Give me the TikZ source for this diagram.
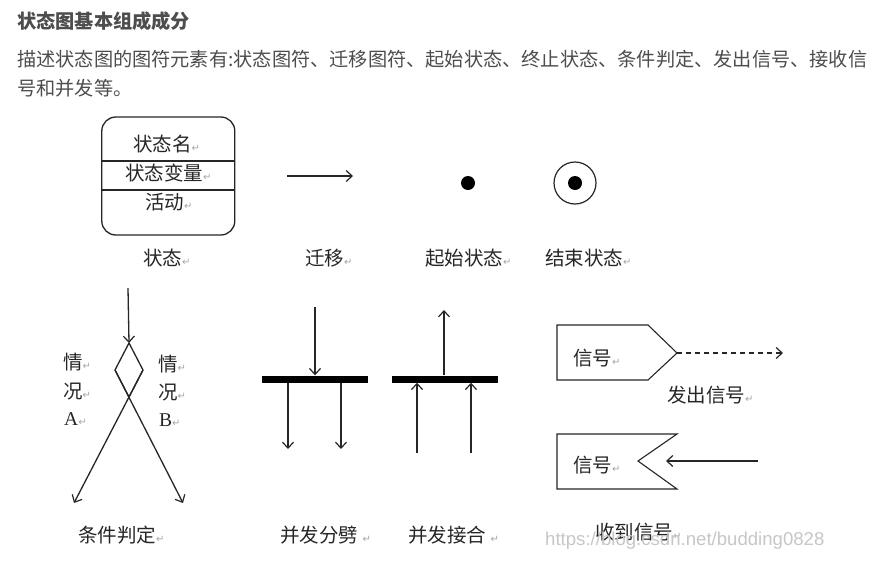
\documentclass[tikz,border=0pt]{standalone}
\usepackage{fontspec}
\setmainfont{Noto Sans CJK SC}
\newfontfamily\dejavu{DejaVu Sans}
\newfontfamily\wmfont{Liberation Sans}
\newfontfamily\latinserif{Liberation Serif}
\usetikzlibrary{arrows.meta}
\definecolor{txt}{HTML}{4D4D4D}
\definecolor{ink}{HTML}{262626}
\newcommand\retm{{\dejavu\fontsize{10}{10}\selectfont\color{black!35}↵}}
\begin{document}
\begin{tikzpicture}[x=1pt,y=-1pt,
  ln/.style={draw=ink,line width=1.3pt},
  arr/.style={ln,-{Straight Barb[length=6pt,width=11pt,line width=1.2pt]}},
  lbl/.style={font=\fontsize{19.5}{20}\selectfont,text=ink,inner sep=0pt,anchor=west},
  para/.style={font=\fontsize{19.2}{20}\selectfont,text=txt,inner sep=0pt,anchor=west},
  bar/.style={fill=black,minimum width=106pt,minimum height=7pt,inner sep=0pt},
  dot/.style={circle,fill=black,minimum size=14pt,inner sep=0pt}]
\useasboundingbox (0,0) rectangle (876,560);
\fill[white] (0,0) rectangle (876,560);

% header text
\node[para,font=\bfseries\fontsize{19.2}{20}\selectfont] (title) at (17,21) {状态图基本组成成分};
\node[para] (p1) at (17,59) {描述状态图的图符元素有:状态图符、迁移图符、起始状态、终止状态、条件判定、发出信号、接收信};
\node[para] (p2) at (17,88) {号和并发等。};

% state symbol
\node[ln,rounded corners=14pt,minimum width=133pt,minimum height=118pt,inner sep=0pt] (state) at (168.3,176) {};
\draw[ln] (102,161) -- (235,161);
\draw[ln] (102,190) -- (235,190);
\node[lbl] (sn) at (133,144) {状态名\retm};
\node[lbl] (sv) at (125,173) {状态变量\retm};
\node[lbl] (sa) at (145,202) {活动\retm};
\node[lbl] (l1) at (143,258) {状态\retm};

% transition
\coordinate (t1) at (287,176);
\coordinate (t2) at (353,176);
\draw[arr] (t1) -- (t2);
\node[lbl] (l2) at (305,258) {迁移\retm};

% initial / final
\node[dot] (init) at (468,183) {};
\node[lbl] (l3) at (425,258) {起始状态\retm};
\node[circle,ln,line width=1.2pt,minimum size=42pt,inner sep=0pt] (final) at (575,183) {};
\node[dot] (finaldot) at (final.center) {};
\node[lbl] (l4) at (545,258) {结束状态\retm};

% decision
\coordinate (din) at (128,288);
\coordinate (dt) at (129,343);
\coordinate (dr) at (143,370);
\coordinate (db) at (129,397);
\coordinate (dl) at (115,370);
\coordinate (da) at (74,503);
\coordinate (dbb) at (183,503);
\draw[arr] (din) -- (dt);
\draw[ln] (dt) -- (dr) -- (db) -- (dl) -- cycle;
\draw[arr] (dl) -- (dbb);
\draw[arr] (dr) -- (da);
\node[lbl] (qa1) at (63,362) {情\retm};
\node[lbl] (qa2) at (63,392) {况\retm};
\node[lbl] (qa3) at (64,419) {{\latinserif A}\retm};
\node[lbl] (qb1) at (158,364) {情\retm};
\node[lbl] (qb2) at (158,393) {况\retm};
\node[lbl] (qb3) at (159,420) {{\latinserif B}\retm};
\node[lbl] (l5) at (78,535) {条件判定\retm};

% fork
\node[bar] (fork) at (315,379) {};
\coordinate (fin) at (315,307);
\coordinate (fo1) at (288,449);
\coordinate (fo2) at (341,449);
\draw[arr] (fin) -- (fork.north -| fin);
\draw[arr] (fork.south -| fo1) -- (fo1);
\draw[arr] (fork.south -| fo2) -- (fo2);
\node[lbl] (l6) at (280,535) {并发分劈\ \retm};

% join
\node[bar] (join) at (444.5,379) {};
\coordinate (jout) at (444,310);
\coordinate (ji1) at (417,453);
\coordinate (ji2) at (471,453);
\draw[arr] (join.north -| jout) -- (jout);
\draw[arr] (ji1) -- (join.south -| ji1);
\draw[arr] (ji2) -- (join.south -| ji2);
\node[lbl] (l7) at (408,535) {并发接合\ \retm};

% send signal
\coordinate (sp) at (677,353);
\draw[ln,line width=1.1pt] (557,325) -- (648,325) -- (sp) -- (648,380) -- (557,380) -- cycle;
\node[lbl] (sig1) at (573,358) {信号\retm};
\coordinate (se) at (783,353);
\draw[arr,dashed,dash pattern=on 5pt off 4pt] (sp) -- (se);
\node[lbl] (l8) at (667,395) {发出信号\retm};

% receive signal
\coordinate (rn) at (638,461);
\draw[ln,line width=1.1pt] (677,434) -- (557,434) -- (557,489) -- (677,489) -- (rn) -- cycle;
\node[lbl] (sig2) at (573,465) {信号\retm};
\coordinate (rs) at (758,461);
\coordinate (re) at (666,461);
\draw[arr] (rs) -- (re);
\node[lbl] (l9) at (595,532) {收到信号\retm};

% watermark (overlaps the label, as in the reference)
\node[anchor=west,inner sep=0pt,text=black!22,font=\wmfont\fontsize{18.6}{18}\selectfont] (wm) at (545,541) {https://blog.csdn.net/budding0828};
\end{tikzpicture}
\end{document}
